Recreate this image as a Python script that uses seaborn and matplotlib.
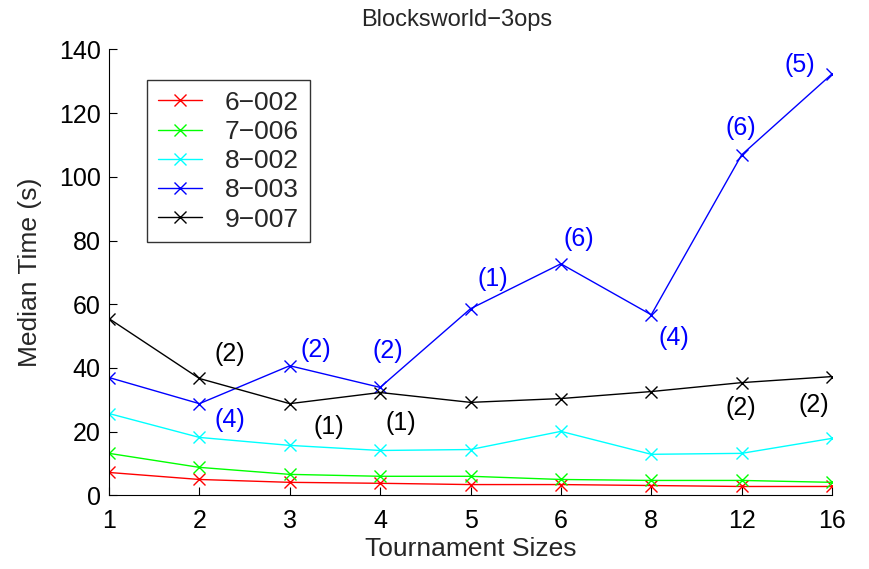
import numpy as np
import pandas as pd
import seaborn as sns
import matplotlib.pyplot as plt

# tournament sizes (categorical positions on x)
sizes = ["1", "2", "3", "4", "5", "6", "8", "12", "16"]

# median times per problem
t_6_002 = [7.2, 5.0, 4.1, 3.8, 3.4, 3.4, 3.1, 2.8, 2.8]
t_7_006 = [13.2, 8.8, 6.6, 6.0, 6.0, 5.0, 4.7, 4.7, 4.1]
t_8_002 = [25.7, 18.2, 15.7, 14.1, 14.4, 20.1, 12.9, 13.2, 17.9]
t_8_003 = [37.0, 28.8, 40.7, 33.9, 58.6, 72.7, 56.7, 106.9, 132.3]
t_9_007 = [55.5, 36.7, 28.8, 32.3, 29.2, 30.4, 32.6, 35.4, 37.3]

names = ["6\u2212002", "7\u2212006", "8\u2212002", "8\u2212003", "9\u2212007"]
colors = ["#ff0000", "#00ff00", "#00ffff", "#0000ff", "#000000"]

# annotation labels: (index of size, text)
blue_notes = [(1, "(4)"), (2, "(2)"), (3, "(2)"), (4, "(1)"), (5, "(6)"),
              (6, "(4)"), (7, "(6)"), (8, "(5)")]
black_notes = [(1, "(2)"), (2, "(1)"), (3, "(1)"), (7, "(2)"), (8, "(2)")]

# label offsets in pixels (dx, dy)
blue_off = {1: (30, -16), 2: (26, 16), 3: (8, 36), 4: (22, 30), 5: (18, 25),
            6: (23, -23), 7: (-1, 27), 8: (-32, 9)}
black_off = {1: (30, 24), 2: (39, -23), 3: (21, -30), 7: (-1, -25), 8: (-18, -28)}

sns.set_style("white")
plt.rcParams['font.family'] = ['Liberation Sans', 'DejaVu Sans']

fig = plt.figure(figsize=(8.69, 5.69), dpi=100)
ax = fig.add_axes([109 / 869, 1 - 495.4 / 569, 723 / 869, 446 / 569])

pos = np.arange(len(sizes))
series = [t_6_002, t_7_006, t_8_002, t_8_003, t_9_007]
for vals, name, c in zip(series, names, colors):
    sns.lineplot(x=pos, y=vals, ax=ax, color=c, marker="x", markersize=9,
                 markeredgewidth=1.0, markeredgecolor=c, linewidth=1.0, label=name)

for i, txt in blue_notes:
    ax.annotate(txt, (pos[i], t_8_003[i]), xytext=blue_off[i], textcoords="offset pixels",
                ha="center", va="center", fontsize=18, color="#0000ff")
for i, txt in black_notes:
    ax.annotate(txt, (pos[i], t_9_007[i]), xytext=black_off[i], textcoords="offset pixels",
                ha="center", va="center", fontsize=18, color="black")

ax.set_xlim(0, len(sizes) - 1)
ax.set_ylim(0, 140)
ax.set_xticks(pos)
ax.set_xticklabels(sizes)
ax.set_yticks(np.arange(0, 141, 20))
ax.tick_params(direction="in", length=6, labelsize=18, width=0.8,
               bottom=True, left=True, colors="black")
ax.tick_params(axis="x", pad=10)
ax.tick_params(axis="y", pad=6)
for s in ["top", "right"]:
    ax.spines[s].set_visible(False)
for s in ["left", "bottom"]:
    ax.spines[s].set_color("black")
    ax.spines[s].set_linewidth(0.8)

ax.set_xlabel("Tournament Sizes", fontsize=19, labelpad=3)
ax.set_ylabel("Median Time (s)", fontsize=19, labelpad=12)
ax.set_title("Blocksworld\u22123ops", fontsize=17, pad=17, x=0.481)

leg = ax.legend(loc="upper left", bbox_to_anchor=(147 / 869, 1 - 80 / 569),
                bbox_transform=fig.transFigure, fontsize=19, frameon=True,
                fancybox=False, borderpad=0.4, handlelength=1.7, labelspacing=0.2,
                handletextpad=0.85, borderaxespad=0)
leg.get_frame().set_edgecolor("black")
leg.get_frame().set_linewidth(1.0)

fig.savefig("out.png", dpi=100)
